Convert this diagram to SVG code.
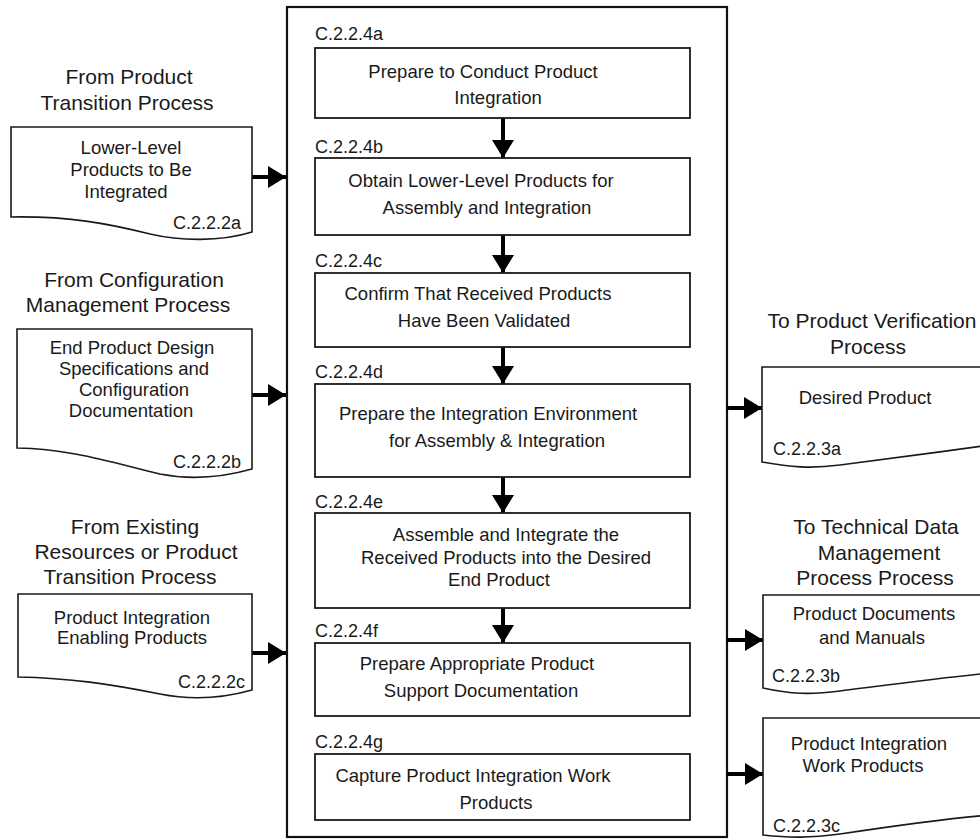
<svg xmlns="http://www.w3.org/2000/svg" width="980" height="839" viewBox="0 0 980 839">
<style>
text{font-family:"Liberation Sans",Arial,sans-serif;fill:#1a1a1a;}
.t{font-size:18.5px;text-anchor:middle;}
.h{font-size:21px;text-anchor:middle;}
.l{font-size:18px;}
.lr{font-size:18px;text-anchor:end;}
.box{fill:#fff;stroke:#1a1a1a;stroke-width:1.8;}
.doc{fill:#fff;stroke:#1a1a1a;stroke-width:1.6;}
.outer{fill:none;stroke:#111;stroke-width:2.2;}
.arr{fill:none;stroke:#000;stroke-width:4;marker-end:url(#ah);}
</style>
<defs>
<marker id="ah" markerUnits="userSpaceOnUse" markerWidth="20" markerHeight="22" viewBox="0 0 18 22" refX="18" refY="11" orient="auto">
<path d="M0,0 L18,11 L0,22 Z" fill="#000"/>
</marker>
</defs>
<rect width="980" height="839" fill="#fff"/>

<g id="outer">
<rect class="outer" x="287" y="7" width="440" height="830"/>
</g>

<g id="connectors">
<path class="arr" d="M503,118 V158"/>
<path class="arr" d="M503,235 V273"/>
<path class="arr" d="M503,347 V384"/>
<path class="arr" d="M503,477 V513"/>
<path class="arr" d="M503,608 V643"/>
<path class="arr" d="M252,177 H286"/>
<path class="arr" d="M252,395 H286"/>
<path class="arr" d="M252,653 H286"/>
<path class="arr" d="M727,408 H762"/>
<path class="arr" d="M727,640 H763"/>
<path class="arr" d="M727,774 H763"/>
</g>

<g id="step-a">
<text class="l" x="315" y="40">C.2.2.4a</text>
<rect class="box" x="315" y="48" width="375" height="70"/>
<text class="t" x="483" y="78">Prepare to Conduct Product</text>
<text class="t" x="498" y="104">Integration</text>
</g>
<g id="step-b">
<text class="l" x="315" y="153">C.2.2.4b</text>
<rect class="box" x="315" y="158" width="375" height="77"/>
<text class="t" x="481" y="187">Obtain Lower-Level Products for</text>
<text class="t" x="487" y="214">Assembly and Integration</text>
</g>
<g id="step-c">
<text class="l" x="315" y="267">C.2.2.4c</text>
<rect class="box" x="315" y="273" width="375" height="74"/>
<text class="t" x="478" y="300">Confirm That Received Products</text>
<text class="t" x="484" y="327">Have Been Validated</text>
</g>
<g id="step-d">
<text class="l" x="315" y="378">C.2.2.4d</text>
<rect class="box" x="315" y="384" width="375" height="93"/>
<text class="t" x="488" y="420">Prepare the Integration Environment</text>
<text class="t" x="497" y="447">for Assembly &amp; Integration</text>
</g>
<g id="step-e">
<text class="l" x="315" y="508">C.2.2.4e</text>
<rect class="box" x="315" y="513" width="375" height="95"/>
<text class="t" x="506" y="541">Assemble and Integrate the</text>
<text class="t" x="506" y="564">Received Products into the Desired</text>
<text class="t" x="499" y="586">End Product</text>
</g>
<g id="step-f">
<text class="l" x="315" y="637">C.2.2.4f</text>
<rect class="box" x="315" y="643" width="375" height="73"/>
<text class="t" x="477" y="670">Prepare Appropriate Product</text>
<text class="t" x="481" y="697">Support Documentation</text>
</g>
<g id="step-g">
<text class="l" x="315" y="748">C.2.2.4g</text>
<rect class="box" x="315" y="754" width="375" height="66"/>
<text class="t" x="473" y="782">Capture Product Integration Work</text>
<text class="t" x="496" y="809">Products</text>
</g>

<g id="input-a">
<text class="h" x="129" y="84">From Product</text>
<text class="h" x="127" y="110">Transition Process</text>
<path class="doc" d="M11,127 H252 V232 C220,242 180,241 150,234 C110,224 70,216 11,217 Z"/>
<text class="t" x="131" y="154">Lower-Level</text>
<text class="t" x="131" y="176">Products to Be</text>
<text class="t" x="126" y="198">Integrated</text>
<text class="lr" x="241" y="229">C.2.2.2a</text>
</g>
<g id="input-b">
<text class="h" x="134" y="287">From Configuration</text>
<text class="h" x="128" y="312">Management Process</text>
<path class="doc" d="M17,329 H252 V469 C220,478 190,480 160,474 C110,462 70,449 17,448 Z"/>
<text class="t" x="132" y="354">End Product Design</text>
<text class="t" x="134" y="375">Specifications and</text>
<text class="t" x="134" y="396">Configuration</text>
<text class="t" x="131" y="417">Documentation</text>
<text class="lr" x="241" y="468">C.2.2.2b</text>
</g>
<g id="input-c">
<text class="h" x="135" y="534">From Existing</text>
<text class="h" x="136" y="559">Resources or Product</text>
<text class="h" x="130" y="584">Transition Process</text>
<path class="doc" d="M18,594 H252 V690 C220,699 190,700 160,694 C110,684 70,678 18,677 Z"/>
<text class="t" x="132" y="624">Product Integration</text>
<text class="t" x="132" y="644">Enabling Products</text>
<text class="lr" x="245" y="688">C.2.2.2c</text>
</g>

<g id="output-a">
<text class="h" x="872" y="328">To Product Verification</text>
<text class="h" x="868" y="354">Process</text>
<path class="doc" d="M762,367 H990 V445 C940,452 880,460 840,465 C810,469 790,467 762,462 Z"/>
<text class="t" x="865" y="404">Desired Product</text>
<text class="l" x="773" y="455">C.2.2.3a</text>
</g>
<g id="output-b">
<text class="h" x="876" y="534">To Technical Data</text>
<text class="h" x="879" y="560">Management</text>
<text class="h" x="875" y="585">Process Process</text>
<path class="doc" d="M763,595 H990 V673 C940,678 880,686 840,691 C810,695 790,694 763,688 Z"/>
<text class="t" x="874" y="620">Product Documents</text>
<text class="t" x="872" y="644">and Manuals</text>
<text class="l" x="772" y="682">C.2.2.3b</text>
</g>
<g id="output-c">
<path class="doc" d="M763,718 H990 V815 C940,819 880,828 840,834 C810,838 790,838 763,835 Z"/>
<text class="t" x="869" y="750">Product Integration</text>
<text class="t" x="863" y="772">Work Products</text>
<text class="l" x="773" y="832">C.2.2.3c</text>
</g>
</svg>
